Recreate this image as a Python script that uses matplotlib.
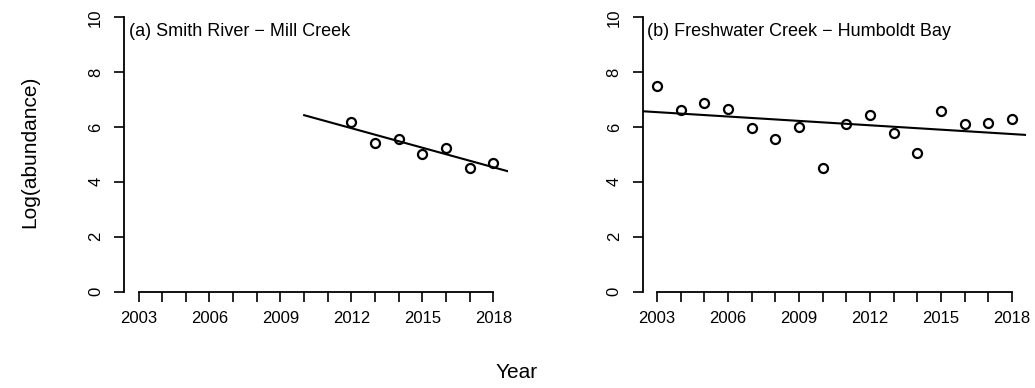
import numpy as np
import matplotlib
matplotlib.use('Agg')
import matplotlib.pyplot as plt

plt.rcParams['font.family'] = ['Liberation Sans', 'DejaVu Sans']

# (a) Smith River - Mill Creek
years_a = [2012, 2013, 2014, 2015, 2016, 2017, 2018]
log_abund_a = [6.20, 5.43, 5.58, 5.02, 5.25, 4.52, 4.70]
fit_start_a = 2010

# (b) Freshwater Creek - Humboldt Bay
years_b = list(range(2003, 2019))
log_abund_b = [7.51, 6.61, 6.89, 6.67, 5.98, 5.58, 5.99, 4.51,
               6.12, 6.45, 5.78, 5.05, 6.59, 6.11, 6.14, 6.29]
fit_start_b = 2002.4

titles = ['(a) Smith River \u2212 Mill Creek', '(b) Freshwater Creek \u2212 Humboldt Bay']
year_ticks = list(range(2003, 2019))
year_labels = [str(y) if (y - 2003) % 3 == 0 else '' for y in year_ticks]
y_ticks = [0, 2, 4, 6, 8, 10]

fig = plt.figure(figsize=(10.35, 3.88), dpi=100)

# axes boxes in figure fractions (R style plot regions)
boxes = [[0.1201, 0.2487, 0.3704, 0.7067],
         [0.6211, 0.2487, 0.3704, 0.7067]]
panels = [(years_a, log_abund_a, fit_start_a), (years_b, log_abund_b, fit_start_b)]

for box, (yrs, vals, x0), title in zip(boxes, panels, titles):
    ax = fig.add_axes(box)
    ax.set_xlim(2002.4, 2018.6)
    ax.set_ylim(0, 10)

    ax.plot(yrs, vals, linestyle='none', marker='o', markersize=6.5,
            markerfacecolor='white', markeredgecolor='black', markeredgewidth=1.6)

    # linear trend fitted to the points
    slope, intercept = np.polyfit(yrs, vals, 1)
    xs = np.array([x0, 2018.6])
    ax.plot(xs, intercept + slope * xs, color='black', linewidth=1.5)

    ax.text(0.012, 0.948, title, transform=ax.transAxes, fontsize=13,
            ha='left', va='center')

    # R style detached axes
    ax.spines['top'].set_visible(False)
    ax.spines['right'].set_visible(False)
    ax.spines['left'].set_bounds(0, 10)
    ax.spines['bottom'].set_bounds(2003, 2018)
    for s in ['left', 'bottom']:
        ax.spines[s].set_linewidth(1.3)

    ax.set_xticks(year_ticks)
    ax.set_xticklabels(year_labels)
    ax.set_yticks(y_ticks)
    ax.set_yticklabels([str(v) for v in y_ticks], rotation=90, va='center')
    ax.tick_params(axis='both', direction='out', length=7.2, width=1.2, labelsize=12)
    ax.tick_params(axis='x', pad=6.5)
    ax.tick_params(axis='y', pad=8)

fig.text(30 / 1035, 1 - 152 / 388, 'Log(abundance)', rotation=90,
         ha='center', va='center', fontsize=15)
fig.text(517 / 1035, 1 - 372 / 388, 'Year', ha='center', va='center', fontsize=15)

fig.savefig('out.png', dpi=100)
